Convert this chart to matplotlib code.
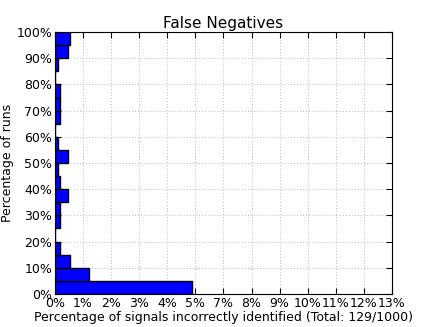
import numpy as np
import matplotlib
matplotlib.use("Agg")
import matplotlib.pyplot as plt

# bins of "percentage of runs" (lower edges), bin height 5%
run_bins = list(range(0, 100, 5))
# bar lengths, % of signals incorrectly identified (bottom bin first)
miss_pct = [5.27, 1.31, 0.60, 0.21, 0.0, 0.21, 0.21, 0.50, 0.21, 0.11,
            0.50, 0.11, 0.0, 0.21, 0.21, 0.21, 0.0, 0.11, 0.50, 0.60]
x_tick_labels = ["0%", "1%", "2%", "3%", "4%", "5%", "7%", "8%", "9%",
                 "10%", "11%", "12%", "13%"]
y_tick_labels = ["%d%%" % v for v in range(0, 101, 10)]

plt.rcParams['font.family'] = ['DejaVu Sans']
plt.rcParams['lines.scale_dashes'] = False

fig = plt.figure(figsize=(4.36, 3.27), dpi=100)
ax = fig.add_axes([0.126, 0.101, 0.773, 0.801])

ax.barh(run_bins, miss_pct, height=5, align='edge', color='#0000ff',
        edgecolor='black', linewidth=1.0, zorder=2)

ax.set_xlim(0, 13)
ax.set_ylim(0, 100)
ax.set_xticks(np.linspace(0, 13, 13))
ax.set_xticklabels(x_tick_labels, fontsize=9)
ax.set_yticks(range(0, 101, 10))
ax.set_yticklabels(y_tick_labels, fontsize=9)
ax.tick_params(direction='in', top=True, right=True, length=4.5, pad=2)
ax.grid(True, linestyle=(0, (0.7, 1.5)), color='#b8b8b8', linewidth=0.7, zorder=0)
ax.set_axisbelow(True)

ax.set_title("False Negatives", fontsize=11, pad=3)
ax.set_xlabel("Percentage of signals incorrectly identified (Total: 129/1000)",
              fontsize=9, labelpad=1)
ax.set_ylabel("Percentage of runs", fontsize=9, labelpad=2)

fig.savefig("out.png", dpi=100)
